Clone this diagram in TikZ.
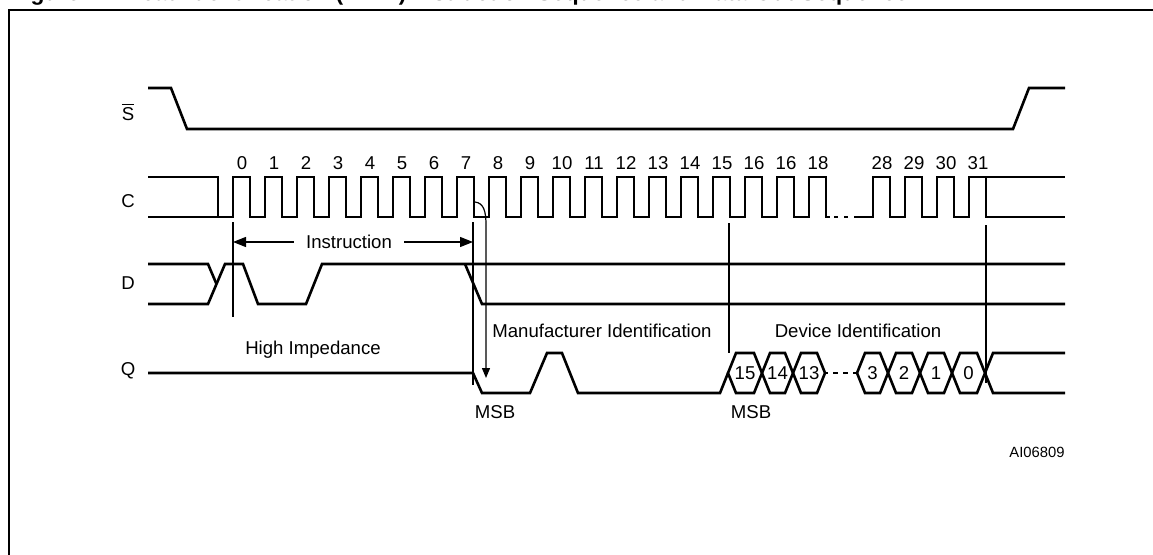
\documentclass[tikz,border=0pt]{standalone}
\usepackage{fontspec}
\setmainfont{Liberation Sans}
\usepackage{tikz}
\usetikzlibrary{arrows.meta}

\begin{document}
\begin{tikzpicture}[x=0.5pt, y=-0.5pt,
    sig/.style={line width=1.3pt},
    tick/.style={line width=0.6pt},
    lbl/.style={font=\fontsize{9.3}{11}\selectfont, inner sep=0pt},
    tip/.style={-{Triangle[length=6.5pt, width=5pt]}}]
  \useasboundingbox (0,0) rectangle (1153,554);
  \clip (0,0) rectangle (1153,554);
  % title, cut off at the top, and the frame
  \node[overlay, font=\bfseries\fontsize{11.4}{13}\selectfont, anchor=base west, inner sep=0pt] (title) at (10,0)
    {Figure 11. Read Identification (RDID) Instruction Sequence and Data-Out Sequence};
  \draw[line width=1.1pt] (9,600) |- (1200,10);

  % signal names
  \node[lbl] (nS) at (128,112) {$\overline{\mbox{S}}$};
  \node[lbl] (nC) at (128,201) {C};
  \node[lbl] (nD) at (128,283) {D};
  \node[lbl] (nQ) at (128,371) {Q};

  % S
  \draw[sig] (148,88) -- (171,88) -- (187,129) -- (1013,129) -- (1029,88) -- (1065,88);

  % C
  \draw[sig] (148,177) -| (218,217);
  \draw[sig] (148,217) \foreach \x in {233,265,...,809}{ -- (\x,217) -- (\x,177) -- (\x+17,177) -- (\x+17,217) } -- (830,217);
  \draw[sig, dash pattern=on 2pt off 3pt, dash phase=3pt] (830,217) -- (858,217);
  \draw[sig] (858,217) \foreach \x in {873,905,937}{ -- (\x,217) -- (\x,177) -- (\x+17,177) -- (\x+17,217) }
    -- (969,217) -- (969,177) -- (986,177) -- (986,217) -- (1065,217);
  \draw[sig] (986,177) -- (1065,177);
  \foreach \t [count=\i from 0] in {0,1,2,3,4,5,6,7,8,9,10,11,12,13,14,15,16,16,18}
    \node[lbl] (ck\i) at ({242+32*\i},163) {\t};
  \foreach \t [count=\i from 0] in {28,29,30,31}
    \node[lbl] (cl\i) at ({882+32*\i},163) {\t};

  % D
  \draw[sig] (148,264) -- (208,264) -- (216.5,284);
  \draw[sig] (148,304) -- (208,304) -- (225,264) -- (243,264) -- (258,304) -- (306,304) -- (322,264) -- (1065,264);
  \draw[sig] (465,264) -- (482,304) -- (1065,304);

  % Q
  \draw[sig] (148,373) -- (473,373) -- (482,393) -- (530,393) -- (547,353) -- (562,353) -- (578,393) -- (720,393) -- (728,373);
  \foreach \a/\b/\t in {728/762/15, 762/793/14, 793/825/13, 857/888/3, 888/920/2, 920/952/1, 952/985/0}{
    \draw[sig] (\a,373) -- (\a+8,353) -- (\b-8,353) -- (\b,373) -- (\b-8,393) -- (\a+8,393) -- cycle;
    \node[lbl] (bit\t) at ({(\a+\b)/2},373) {\t};
  }
  \draw[sig, dash pattern=on 2.5pt off 2.5pt, dash phase=1pt] (825,373) -- (857,373);
  \draw[sig] (985,373) -- (993,353) -- (1065,353);
  \draw[sig] (985,373) -- (993,393) -- (1065,393);

  % timing marks
  \draw[tick] (233,222) -- (233,317);
  \draw[tick] (473,222) -- (473,385);
  \draw[tick] (729,223) -- (729,353);
  \draw[tick] (986,225) -- (986,383);

  \node[lbl, inner xsep=6pt] (instr) at (349,242) {Instruction};
  \coordinate (iL) at (233,242);
  \coordinate (iR) at (473,242);
  \draw[tick, tip] (instr) -- (iL);
  \draw[tick, tip] (instr) -- (iR);

  \coordinate (edge7) at (475,202);
  \coordinate (out7) at (486,378);
  \draw[tick, -{Triangle[length=5pt, width=4pt]}] (edge7) .. controls (484,203) and (486,212) .. (486,225) -- (out7);

  % labels
  \node[lbl] (hiz) at (313,350) {High Impedance};
  \node[lbl] (manid) at (602,331) {Manufacturer Identification};
  \node[lbl] (devid) at (858,331) {Device Identification};
  \node[lbl] (msbA) at (495,412) {MSB};
  \node[lbl] (msbB) at (751,412) {MSB};
  \node[lbl, font=\fontsize{7.4}{9}\selectfont] (code) at (1037,452) {AI06809};
\end{tikzpicture}
\end{document}
